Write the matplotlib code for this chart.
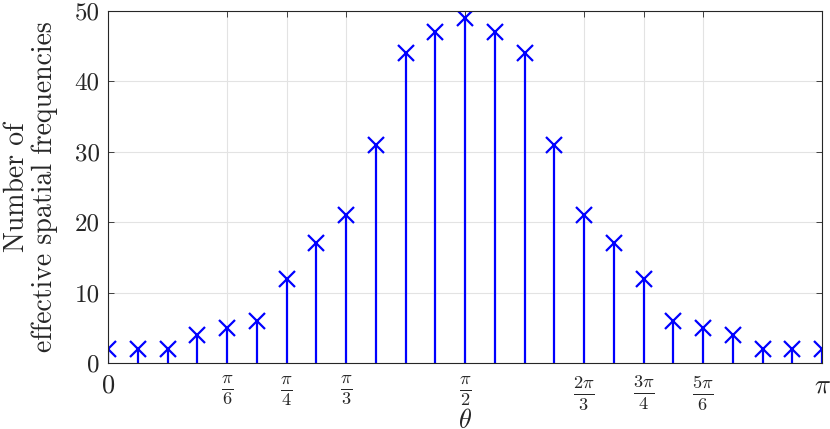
import numpy as np
import matplotlib
matplotlib.use("Agg")
import matplotlib.pyplot as plt

# theta sampled in steps of pi/24
steps = list(range(25))
counts = [2, 2, 2, 4, 5, 6, 12, 17, 21, 31, 44, 47, 49, 47, 44, 31, 21, 17, 12, 6, 5, 4, 2, 2, 2]

tick_fracs = [0, 1/6, 1/4, 1/3, 1/2, 2/3, 3/4, 5/6, 1]
tick_labels = [r'$0$', r'$\frac{\pi}{6}$', r'$\frac{\pi}{4}$', r'$\frac{\pi}{3}$',
               r'$\frac{\pi}{2}$', r'$\frac{2\pi}{3}$', r'$\frac{3\pi}{4}$',
               r'$\frac{5\pi}{6}$', r'$\pi$']
yticks = [0, 10, 20, 30, 40, 50]

plt.rcParams['font.family'] = 'serif'
plt.rcParams['font.serif'] = ['cmr10']
plt.rcParams['mathtext.fontset'] = 'cm'
plt.rcParams['axes.formatter.use_mathtext'] = True

dark = '#262626'

fig = plt.figure(figsize=(8.3, 4.29), dpi=100)
ax = fig.add_axes([108/830, 1 - 363/429, (822 - 108)/830, (363 - 11)/429])

theta = np.array(steps) * np.pi / 24
markers, stems, base = ax.stem(theta, counts, basefmt=' ')
plt.setp(stems, color='#0000ff', linewidth=1.6)
plt.setp(markers, color='#0000ff', marker='x', markersize=11, markeredgewidth=1.6)

ax.set_xlim(0, np.pi)
ax.set_ylim(0, 50)
ax.set_xticks([f * np.pi for f in tick_fracs])
ax.set_xticklabels(tick_labels, fontsize=19)
ax.set_yticks(yticks)
ax.set_yticklabels([str(v) for v in yticks], fontsize=18)

ax.grid(True, color='#e3e3e3', linewidth=0.8)
ax.set_axisbelow(True)
ax.tick_params(direction='in', length=4, width=0.6, colors=dark, top=True, right=True,
               labelcolor=dark)
ax.tick_params(axis='x', pad=8)
ax.tick_params(axis='y', pad=6)
for s in ax.spines.values():
    s.set_color(dark)
    s.set_linewidth(0.8)

ax.set_xlabel(r'$\theta$', fontsize=19, color=dark)
ax.xaxis.set_label_coords(0.5, -0.13)
ax.set_ylabel('Number of\neffective spatial frequencies', fontsize=20, color=dark,
              labelpad=12, linespacing=1.05)

fig.savefig('out.png', dpi=100)
